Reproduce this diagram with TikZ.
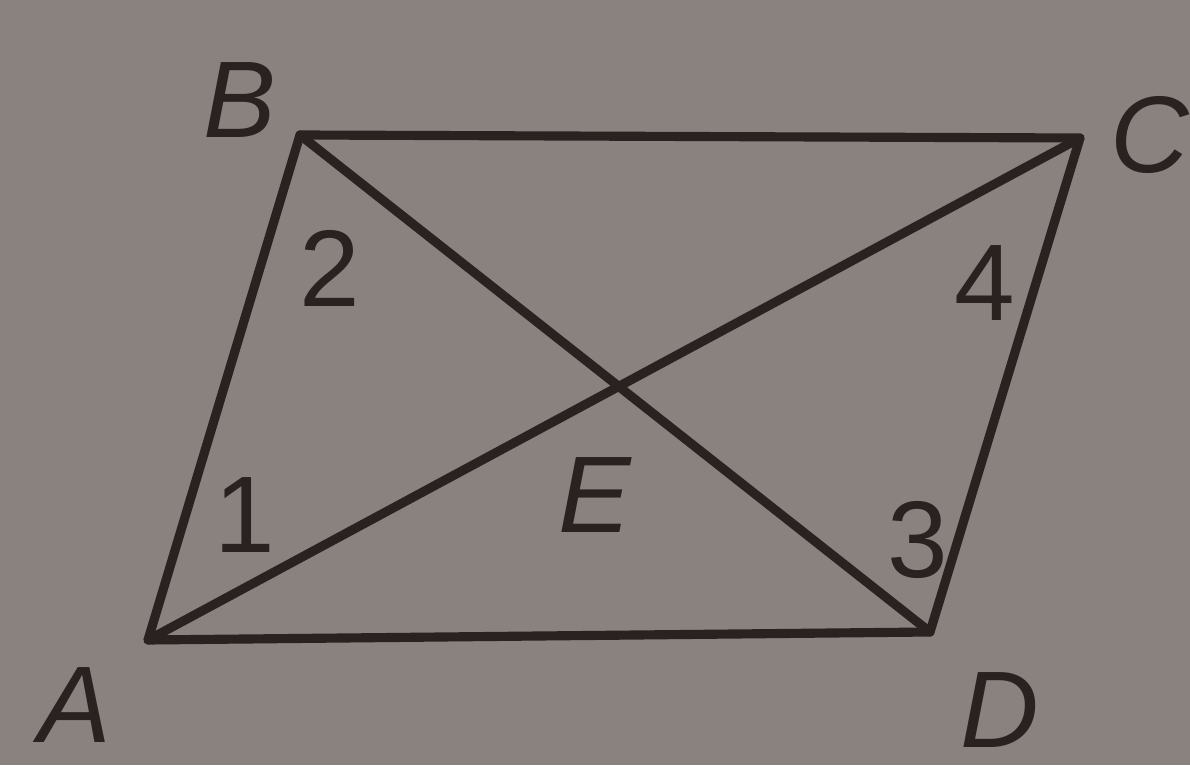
\documentclass[tikz,border=0pt]{standalone}
\usepackage{fontspec}
\setmainfont{Liberation Sans}
\usetikzlibrary{calc}
\definecolor{paper}{RGB}{138,130,127}
\definecolor{ink}{RGB}{42,33,33}
\begin{document}
\begin{tikzpicture}[scale=1, font=\fontsize{31}{36}\selectfont, line join=round, line cap=round, >=stealth]
				\useasboundingbox (0,0) rectangle (11.9,7.65);
				\fill[paper] (0,0) rectangle (11.9,7.65);
				\coordinate (A) at (1.48,1.25);
				\coordinate (B) at (3.00,6.30);
				\coordinate (C) at (10.80,6.27);
				\coordinate (D) at (9.30,1.33);
				\coordinate (E) at (intersection of A--C and B--D);
				\draw[ink, line width=2.6pt] (A)--(B)--(C)--(D)--cycle;
				\draw[ink, line width=2.6pt] (A)--(C);
				\draw[ink, line width=2.6pt] (B)--(D);
				\node[ink] (lA) at (0.75,0.60) {\itshape A};
				\node[ink] (lB) at (2.40,6.65) {\itshape B};
				\node[ink] (lC) at (11.50,6.30) {\itshape C};
				\node[ink] (lD) at (10.00,0.55) {\itshape D};
				\node[ink] (lE) at (5.95,2.70) {\itshape E};
				\node[ink] (n1) at (2.45,2.50) {1};
				\node[ink] (n2) at (3.30,4.97) {2};
				\node[ink] (n3) at (9.18,2.25) {3};
				\node[ink] (n4) at (9.85,4.82) {4};
			\end{tikzpicture}
\end{document}
